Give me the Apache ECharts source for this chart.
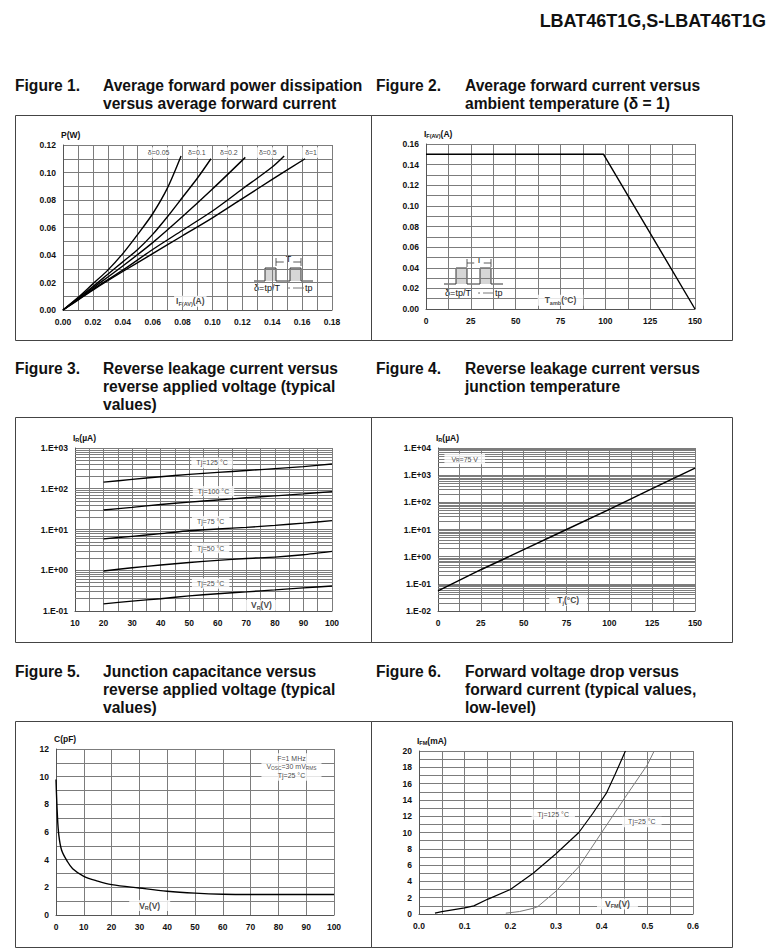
<!DOCTYPE html>
<html><head><meta charset="utf-8">
<script src="https://cdn.jsdelivr.net/npm/echarts@6/dist/echarts.min.js"></script>
<style>html,body{margin:0;padding:0;background:#fff}#c{width:775px;height:952px}</style>
</head><body><div id="c"></div>
<script>
// ================= DATA =================
const headerText = 'LBAT46T1G,S-LBAT46T1G';

// Figure 1 : P(W) vs IF(AV)(A)
const fig1XTicks = [0, 0.18, 0.02];
const fig1YTicks = [0, 0.12, 0.02];
const fig1D005 = [[0,0],[0.01,0.009],[0.02,0.019],[0.03,0.029],[0.04,0.041],[0.05,0.055],[0.06,0.070],[0.07,0.089],[0.079,0.112]];
const fig1D01  = [[0,0],[0.01,0.0085],[0.02,0.017],[0.03,0.026],[0.04,0.035],[0.05,0.044],[0.06,0.055],[0.07,0.068],[0.08,0.082],[0.09,0.096],[0.099,0.110]];
const fig1D02  = [[0,0],[0.01,0.008],[0.02,0.016],[0.04,0.032],[0.06,0.049],[0.08,0.068],[0.10,0.088],[0.122,0.111]];
const fig1D05  = [[0,0],[0.01,0.0075],[0.02,0.015],[0.04,0.029],[0.06,0.044],[0.08,0.058],[0.10,0.072],[0.12,0.088],[0.14,0.104],[0.148,0.112]];
const fig1D1   = [[0,0],[0.01,0.0072],[0.02,0.0145],[0.04,0.028],[0.06,0.041],[0.08,0.054],[0.10,0.067],[0.12,0.081],[0.14,0.095],[0.162,0.110]];
const fig1Names = ['δ=0.05','δ=0.1','δ=0.2','δ=0.5','δ=1'];

// Figure 2 : IF(AV)(A) vs Tamb
const fig2XTicks = [0, 150, 25];
const fig2YTicks = [0, 0.16, 0.02];
const fig2Curve = [[0,0.15],[99,0.15],[150,0]];

// Figure 3 : IR(uA) vs VR(V)
const fig3XTicks = [10, 100, 10];
const fig3YRange = [0.1, 1000];
const fig3T125 = [[20,145],[30,170],[40,197],[50,225],[60,252],[70,280],[80,312],[90,350],[100,405]];
const fig3T100 = [[20,30],[30,35],[40,41],[50,47],[60,53],[70,60],[80,67],[90,75],[100,85]];
const fig3T75  = [[20,5.9],[30,6.8],[40,7.9],[50,9.3],[60,10.3],[70,11.3],[80,12.6],[90,14.3],[100,16.5]];
const fig3T50  = [[20,0.96],[30,1.15],[40,1.35],[50,1.55],[60,1.75],[70,1.95],[80,2.1],[90,2.4],[100,2.9]];
const fig3T25  = [[20,0.15],[30,0.175],[40,0.2],[50,0.235],[60,0.265],[70,0.295],[80,0.33],[90,0.37],[100,0.41]];
const fig3Names = ['Tj=125 °C','Tj=100 °C','Tj=75 °C','Tj=50 °C','Tj=25 °C'];

// Figure 4 : IR(uA) vs Tj
const fig4XTicks = [0, 150, 25];
const fig4YRange = [0.01, 10000];
const fig4Curve = [[0,0.055],[25,0.33],[50,1.8],[75,10],[100,55],[125,320],[150,1800]];

// Figure 5 : C(pF) vs VR(V)
const fig5XTicks = [0, 100, 10];
const fig5YTicks = [0, 12, 2];
const fig5Curve = [[0,9.8],[0.5,7.2],[1,5.8],[2,4.7],[4,3.9],[6,3.35],[10,2.8],[15,2.45],[20,2.2],[30,1.95],[40,1.72],[50,1.58],[60,1.5],[70,1.48],[80,1.48],[90,1.48],[100,1.48]];

// Figure 6 : IFM(mA) vs VFM(V)
const fig6XTicks = [0, 0.6, 0.1];
const fig6YTicks = [0, 20, 2];
const fig6T125 = [[0.035,0.1],[0.05,0.3],[0.1,0.75],[0.12,1.0],[0.15,1.8],[0.2,3.0],[0.25,5.0],[0.3,7.4],[0.35,10.0],[0.38,12.3],[0.41,14.8],[0.43,17.2],[0.452,20]];
const fig6T25  = [[0.19,0.1],[0.22,0.3],[0.25,0.7],[0.26,0.9],[0.3,2.8],[0.35,5.8],[0.4,10],[0.45,14.2],[0.5,18.3],[0.515,20]];
const fig6Names = ['Tj=125 °C','Tj=25 °C'];

// Titles
const titles = [
  ['Figure 1.', ['Average forward power dissipation','versus average forward current']],
  ['Figure 2.', ['Average forward current versus','ambient temperature (δ = 1)']],
  ['Figure 3.', ['Reverse leakage current versus','reverse applied voltage (typical','values)']],
  ['Figure 4.', ['Reverse leakage current versus','junction temperature']],
  ['Figure 5.', ['Junction capacitance versus','reverse applied voltage (typical','values)']],
  ['Figure 6.', ['Forward voltage drop versus','forward current (typical values,','low-level)']]
];

// ================= LAYOUT / STYLE =================
const FONT = "'Liberation Sans', Arial, Helvetica, sans-serif";
const GRID_C = '#7c7c7c';
const G = [
  {left:63, top:145, width:269, height:165},
  {left:426, top:144, width:269, height:165},
  {left:75, top:448, width:257, height:163},
  {left:438, top:448, width:257, height:163},
  {left:56, top:749, width:278, height:166},
  {left:419, top:751, width:274, height:163}
];
const RICH = {
  bo: {fontFamily:FONT, fontWeight:'bold', fontSize:8.5, color:'#111', lineHeight:11},
  bs: {fontFamily:FONT, fontWeight:'bold', fontSize:5.5, color:'#111', lineHeight:11, verticalAlign:'bottom'},
  rg: {fontFamily:FONT, fontSize:7, color:'#111', lineHeight:8.5},
  rs: {fontFamily:FONT, fontSize:4.8, color:'#111', lineHeight:8.5, verticalAlign:'bottom'}
};

function vAxis(gi, t, fmt, minor, name) {
  const a = {
    type:'value', gridIndex:gi, min:t[0], max:t[1], interval:t[2],
    axisLine:{show:true, onZero:false, lineStyle:{color:'#555', width:1}},
    axisTick:{show:false},
    axisLabel:{formatter:fmt, fontFamily:FONT, fontWeight:'bold', fontSize:8.5, color:'#111', margin:7, showMinLabel:true, showMaxLabel:true},
    splitLine:{show:true, lineStyle:{color:GRID_C, width:1}},
    minorTick:{show:false, splitNumber:minor || 5},
    minorSplitLine:{show:!!minor, lineStyle:{color:GRID_C, width:1}}
  };
  if (name) {
    a.name = name; a.nameLocation = 'end'; a.nameGap = 5;
    a.nameTextStyle = {align:'left', padding:[0,0,0,-2], rich:RICH};
  }
  return a;
}
function logFmt(v) {
  const e = Math.round(Math.log10(v));
  return '1.E' + (e < 0 ? '-' : '+') + String(Math.abs(e)).padStart(2, '0');
}
function logAxis(gi, r, name) {
  return {
    type:'log', logBase:10, gridIndex:gi, min:r[0], max:r[1],
    splitNumber: Math.round(Math.log10(r[1] / r[0])),
    axisLine:{show:true, onZero:false, lineStyle:{color:'#555', width:1}},
    axisTick:{show:false},
    axisLabel:{formatter:logFmt, fontFamily:FONT, fontWeight:'bold', fontSize:8.5, color:'#111', margin:7, showMinLabel:true, showMaxLabel:true},
    splitLine:{show:true, lineStyle:{color:GRID_C, width:1}},
    name:name, nameLocation:'end', nameGap:5,
    nameTextStyle:{align:'left', padding:[0,0,0,-2], rich:RICH}
  };
}
function logMinorValues(r) {
  const out = [];
  for (let d = r[0]; d < r[1] * 0.999; d *= 10)
    for (let k = 2; k <= 9; k++) out.push(+(k * d).toPrecision(3));
  return out;
}
function minorSeries(gi, r) {
  return {
    type:'line', xAxisIndex:gi, yAxisIndex:gi, data:[], silent:true, animation:false, z:1,
    markLine:{silent:true, animation:false, symbol:['none','none'], label:{show:false},
      lineStyle:{color:GRID_C, width:1, type:'solid'},
      emphasis:{disabled:true},
      data: logMinorValues(r).map(v => ({yAxis:v}))}
  };
}
function curve(gi, data, opt) {
  return Object.assign({
    type:'line', xAxisIndex:gi, yAxisIndex:gi, data:data, symbol:'none', showSymbol:false,
    smooth:false, silent:true, animation:false, z:5,
    lineStyle:{color:'#000', width:1.4}
  }, opt || {});
}
function annot(gi, items) {
  return {
    type:'scatter', xAxisIndex:gi, yAxisIndex:gi, symbolSize:1, silent:true, animation:false, z:20,
    itemStyle:{color:'rgba(0,0,0,0)'},
    data: items.map(it => ({
      value:[it.x, it.y],
      label:{show:true, position:'inside', formatter:it.text, backgroundColor:'#fff',
        padding:it.pad || [1,3], rich:RICH, align:'center', verticalAlign:'middle'}
    }))
  };
}

// ================= GRAPHICS (frames, titles, insets) =================
const graphics = [];
const cols = [{x:15, w:356, fig:15, txt:103}, {x:371, w:361, fig:376, txt:465}];
const rows = [{y:115, h:225, ty:85}, {y:417, h:225, ty:368}, {y:721, h:226, ty:671}];
const TFONT = 'bold 15.6px ' + FONT;
rows.forEach((r, ri) => {
  cols.forEach((c, ci) => {
    graphics.push({type:'rect', z:30, shape:{x:c.x + 0.5, y:r.y + 0.5, width:c.w, height:r.h},
      style:{fill:'none', stroke:'#444', lineWidth:1}});
    const t = titles[ri * 2 + ci];
    graphics.push({type:'text', z:30, style:{text:t[0], x:c.fig, y:r.ty, font:TFONT, fill:'#111', verticalAlign:'middle'}});
    t[1].forEach((line, li) => {
      graphics.push({type:'text', z:30, style:{text:line, x:c.txt, y:r.ty + li * 18, font:TFONT, fill:'#111', verticalAlign:'middle'}});
    });
  });
});
graphics.push({type:'text', z:30, style:{text:headerText, x:766, y:21, font:'bold 18px ' + FONT, fill:'#111', align:'right', verticalAlign:'middle'}});

function inset(o) {
  const ch = [];
  ch.push({type:'rect', shape:{x:0, y:0, width:o.w, height:o.h}, style:{fill:'#fff', stroke:'none'}});
  ch.push({type:'rect', shape:{x:o.p1[0], y:o.top, width:o.p1[1]-o.p1[0], height:o.base-o.top}, style:{fill:'#d6d6d6'}});
  ch.push({type:'rect', shape:{x:o.p2[0], y:o.top, width:o.p2[1]-o.p2[0], height:o.base-o.top}, style:{fill:'#d6d6d6'}});
  ch.push({type:'polyline', shape:{points:[[o.bx[0],o.base],[o.p1[0],o.base],[o.p1[0],o.top],[o.p1[1],o.top],[o.p1[1],o.base],[o.p2[0],o.base],[o.p2[0],o.top],[o.p2[1],o.top],[o.p2[1],o.base],[o.bx[1],o.base]]},
    style:{fill:'none', stroke:'#333', lineWidth:1}});
  ch.push({type:'line', shape:{x1:o.p1[1], y1:o.br, x2:o.p2[1], y2:o.br}, style:{stroke:'#333', lineWidth:0.8}});
  ch.push({type:'line', shape:{x1:o.p1[1], y1:o.br-4, x2:o.p1[1], y2:o.br+4}, style:{stroke:'#333', lineWidth:0.8}});
  ch.push({type:'line', shape:{x1:o.p2[1], y1:o.br-4, x2:o.p2[1], y2:o.br+4}, style:{stroke:'#333', lineWidth:0.8}});
  ch.push({type:'text', style:{text:'T', x:(o.p1[1]+o.p2[1])/2, y:o.br+1, font:'9px ' + FONT, fill:'#111', align:'center', verticalAlign:'bottom', backgroundColor:'#fff', padding:[0,2]}});
  ch.push({type:'text', style:{text:'δ=tp/T', x:o.dx, y:o.ty, font:'9px ' + FONT, fill:'#111', align:'center', verticalAlign:'middle'}});
  ch.push({type:'circle', shape:{cx:o.p2[0]-1, cy:o.ty, r:0.7}, style:{fill:'#444'}});
  ch.push({type:'line', shape:{x1:o.p2[0]+3, y1:o.ty, x2:o.p2[1]+3, y2:o.ty}, style:{stroke:'#555', lineWidth:0.8}});
  ch.push({type:'text', style:{text:'tp', x:o.p2[1]+4, y:o.ty, font:'9px ' + FONT, fill:'#111', align:'left', verticalAlign:'middle'}});
  return {type:'group', x:o.x, y:o.y, z:25, children:ch};
}
graphics.push(inset({x:250, y:253, w:70, h:56, base:28, top:15, p1:[15,26], p2:[40,51], bx:[4,63], br:9, dx:17, ty:35}));
graphics.push(inset({x:438, y:253, w:70, h:46, base:31, top:15, p1:[18,29], p2:[42,53], bx:[6,65], br:10, dx:20, ty:40}));

// ================= OPTION =================
const f2 = v => v.toFixed(2);
const f1 = v => v.toFixed(1);
const fi = v => String(Math.round(v));

const option = {
  animation:false,
  backgroundColor:'#fff',
  grid: G.map(g => Object.assign({}, g, {containLabel:false, show:false})),
  xAxis: [
    vAxis(0, fig1XTicks, f2, 2),
    vAxis(1, fig2XTicks, fi, 2),
    vAxis(2, fig3XTicks, fi, 2),
    vAxis(3, fig4XTicks, fi, 2),
    vAxis(4, fig5XTicks, fi, 0),
    vAxis(5, fig6XTicks, f1, 2)
  ],
  yAxis: [
    vAxis(0, fig1YTicks, f2, 2, '{bo|P(W)}'),
    vAxis(1, fig2YTicks, f2, 2, '{bo|I}{bs|F(AV)}{bo|(A)}'),
    logAxis(2, fig3YRange, '{bo|I}{bs|R}{bo|(µA)}'),
    logAxis(3, fig4YRange, '{bo|I}{bs|R}{bo|(µA)}'),
    vAxis(4, fig5YTicks, fi, 2, '{bo|C(pF)}'),
    vAxis(5, fig6YTicks, fi, 2, '{bo|I}{bs|FM}{bo|(mA)}')
  ],
  series: [
    curve(0, fig1D005, {smooth:0.3, name:fig1Names[0]}),
    curve(0, fig1D01, {smooth:0.3, name:fig1Names[1]}),
    curve(0, fig1D02, {smooth:0.3, name:fig1Names[2]}),
    curve(0, fig1D05, {smooth:0.3, name:fig1Names[3]}),
    curve(0, fig1D1, {smooth:0.3, name:fig1Names[4]}),
    annot(0, [
      {x:0.064, y:0.1145, text:'{rg|' + fig1Names[0] + '}'},
      {x:0.0895, y:0.1145, text:'{rg|' + fig1Names[1] + '}'},
      {x:0.111, y:0.1145, text:'{rg|' + fig1Names[2] + '}'},
      {x:0.137, y:0.1145, text:'{rg|' + fig1Names[3] + '}'},
      {x:0.166, y:0.1145, text:'{rg|' + fig1Names[4] + '}'},
      {x:0.0852, y:0.0063, text:'{bo|I}{bs|F(AV)}{bo|(A)}', pad:[0,2]}
    ]),

    curve(1, fig2Curve),
    annot(1, [{x:75, y:0.0085, text:'{bo|T}{bs|amb}{bo|(°C)}', pad:[0,7]}]),

    minorSeries(2, fig3YRange),
    curve(2, fig3T125, {smooth:0.2, name:fig3Names[0]}),
    curve(2, fig3T100, {smooth:0.2, name:fig3Names[1]}),
    curve(2, fig3T75, {smooth:0.2, name:fig3Names[2]}),
    curve(2, fig3T50, {smooth:0.2, name:fig3Names[3]}),
    curve(2, fig3T25, {smooth:0.2, name:fig3Names[4]}),
    annot(2, [
      {x:58, y:430, text:'{rg|' + fig3Names[0] + '}', pad:[1,5]},
      {x:58.5, y:87, text:'{rg|' + fig3Names[1] + '}', pad:[1,5]},
      {x:57.5, y:16, text:'{rg|' + fig3Names[2] + '}', pad:[1,5]},
      {x:57.5, y:3.5, text:'{rg|' + fig3Names[3] + '}', pad:[1,5]},
      {x:57.5, y:0.47, text:'{rg|' + fig3Names[4] + '}', pad:[1,5]},
      {x:75.3, y:0.138, text:'{bo|V}{bs|R}{bo|(V)}', pad:[0,6]}
    ]),

    minorSeries(3, fig4YRange),
    curve(3, fig4Curve),
    annot(3, [
      {x:15.6, y:3900, text:'{rg|V}{rs|R}{rg|=75 V}', pad:[1,7]},
      {x:76, y:0.0247, text:'{bo|T}{bs|j}{bo|(°C)}', pad:[0,8]}
    ]),

    curve(4, fig5Curve, {smooth:0.35}),
    annot(4, [
      {x:84.7, y:10.7, text:'{rg|F=1 MHz}\n{rg|V}{rs|OSC}{rg|=30 mV}{rs|RMS}\n{rg|Tj=25 °C}', pad:[1,5]},
      {x:33.7, y:0.68, text:'{bo|V}{bs|R}{bo|(V)}', pad:[0,10]}
    ]),

    curve(5, fig6T125, {name:fig6Names[0], lineStyle:{color:'#000', width:1.2}}),
    curve(5, fig6T25, {name:fig6Names[1], lineStyle:{color:'#7a7a7a', width:1}}),
    annot(5, [
      {x:0.294, y:12.2, text:'{rg|' + fig6Names[0] + '}', pad:[1,6]},
      {x:0.488, y:11.3, text:'{rg|' + fig6Names[1] + '}', pad:[1,6]},
      {x:0.4346, y:1.23, text:'{bo|V}{bs|FM}{bo|(V)}', pad:[0,8]}
    ])
  ],
  graphic: graphics
};

const chart = echarts.init(document.getElementById('c'), null, {renderer:'svg', width:775, height:952});
chart.setOption(option);
</script>
</body></html>
